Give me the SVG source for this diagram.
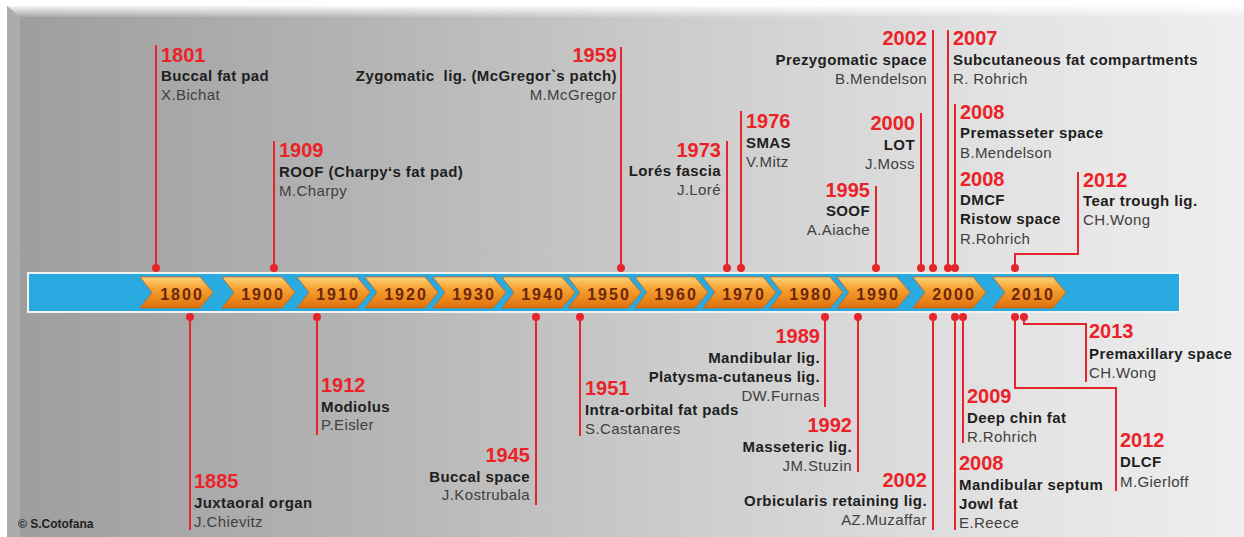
<svg xmlns="http://www.w3.org/2000/svg" width="1244" height="537" viewBox="0 0 1244 537">
<style>
.yr{font-family:"Liberation Sans",Arial,sans-serif;font-weight:bold;font-size:20px;fill:#ec2228}
.tt{font-family:"Liberation Sans",Arial,sans-serif;font-weight:bold;font-size:15px;letter-spacing:0.4px;fill:#1e1e1e}
.nm{font-family:"Liberation Sans",Arial,sans-serif;font-size:15px;letter-spacing:0.4px;fill:#404040}
.e{text-anchor:end}
.pre{white-space:pre}
.cl{font-family:"Liberation Sans",Arial,sans-serif;font-weight:bold;font-size:16px;letter-spacing:2px;fill:#6e260c;text-anchor:middle}
.ln{stroke:#e5242b;stroke-width:2;fill:none}
.dt{fill:#e5242b}
.cp{font-family:"Liberation Sans",Arial,sans-serif;font-weight:bold;font-size:12px;fill:#222}
</style>
<defs>
<linearGradient id="bg" x1="0" y1="0" x2="1" y2="0">
<stop offset="0" stop-color="#9d9d9d"/>
<stop offset="0.3" stop-color="#b5b5b5"/>
<stop offset="0.55" stop-color="#cdcdcd"/>
<stop offset="0.8" stop-color="#e2e2e2"/>
<stop offset="1" stop-color="#eeeeee"/>
</linearGradient>
<linearGradient id="topb" x1="0" y1="0" x2="0" y2="1">
<stop offset="0" stop-color="#ffffff" stop-opacity="0.9"/>
<stop offset="1" stop-color="#ffffff" stop-opacity="0.1"/>
</linearGradient>
<linearGradient id="og" x1="0" y1="0" x2="0" y2="1">
<stop offset="0" stop-color="#fdd27a"/>
<stop offset="0.35" stop-color="#f8a534"/>
<stop offset="1" stop-color="#de700c"/>
</linearGradient>
<path id="chev" d="M0,0 H60 L73,15.5 L60,31 H0 L12,15.5 Z" fill="url(#og)" stroke="#c8650c" stroke-width="0.8"/>
</defs>
<rect x="0" y="0" width="1244" height="537" fill="#ffffff"/>
<rect x="7" y="6" width="1237" height="531" fill="url(#bg)"/>
<polygon points="7,6 1244,6 1244,17 20,17" fill="url(#topb)"/>
<polygon points="7,6 20,17 20,537 7,537" fill="#ffffff" opacity="0.15"/>

<g id="timeline-bar">
<rect x="28" y="273" width="1152" height="39" fill="#29abe2" stroke="#f2f2f2" stroke-width="2"/>
</g>
<g id="decades">
<g id="d1800"><use href="#chev" x="140" y="277"/><text class="cl" x="182" y="300">1800</text></g>
<g id="d1900"><use href="#chev" x="222" y="277"/><text class="cl" x="263" y="300">1900</text></g>
<g id="d1910"><use href="#chev" x="297" y="277"/><text class="cl" x="338" y="300">1910</text></g>
<g id="d1920"><use href="#chev" x="365" y="277"/><text class="cl" x="406" y="300">1920</text></g>
<g id="d1930"><use href="#chev" x="433" y="277"/><text class="cl" x="474" y="300">1930</text></g>
<g id="d1940"><use href="#chev" x="502" y="277"/><text class="cl" x="543" y="300">1940</text></g>
<g id="d1950"><use href="#chev" x="568" y="277"/><text class="cl" x="609" y="300">1950</text></g>
<g id="d1960"><use href="#chev" x="635" y="277"/><text class="cl" x="676" y="300">1960</text></g>
<g id="d1970"><use href="#chev" x="703" y="277"/><text class="cl" x="744" y="300">1970</text></g>
<g id="d1980"><use href="#chev" x="770" y="277"/><text class="cl" x="811" y="300">1980</text></g>
<g id="d1990"><use href="#chev" x="837" y="277"/><text class="cl" x="878" y="300">1990</text></g>
<g id="d2000"><use href="#chev" x="913" y="277"/><text class="cl" x="954" y="300">2000</text></g>
<g id="d2010"><use href="#chev" x="993" y="277"/><text class="cl" x="1033" y="300">2010</text></g>
</g>

<g id="connectors">
<line class="ln" x1="156" y1="45" x2="156" y2="268"/><circle class="dt" cx="156" cy="268" r="4"/>
<line class="ln" x1="274" y1="141" x2="274" y2="268"/><circle class="dt" cx="274" cy="268" r="4"/>
<line class="ln" x1="621" y1="47" x2="621" y2="268"/><circle class="dt" cx="621" cy="268" r="4"/>
<line class="ln" x1="727" y1="141" x2="727" y2="268"/><circle class="dt" cx="727" cy="268" r="4"/>
<line class="ln" x1="741" y1="111" x2="741" y2="268"/><circle class="dt" cx="741" cy="268" r="4"/>
<line class="ln" x1="876" y1="186" x2="876" y2="268"/><circle class="dt" cx="876" cy="268" r="4"/>
<line class="ln" x1="921" y1="113" x2="921" y2="268"/><circle class="dt" cx="921" cy="268" r="4"/>
<line class="ln" x1="933" y1="30" x2="933" y2="268"/><circle class="dt" cx="933" cy="268" r="4"/>
<line class="ln" x1="948" y1="30" x2="948" y2="268"/><circle class="dt" cx="948" cy="268" r="4"/>
<line class="ln" x1="955" y1="104" x2="955" y2="268"/><circle class="dt" cx="955" cy="268" r="4"/>
<polyline class="ln" points="1015,268 1015,254 1078,254 1078,172"/><circle class="dt" cx="1015" cy="268" r="4"/>

<line class="ln" x1="190" y1="317" x2="190" y2="530"/><circle class="dt" cx="190" cy="317" r="4"/>
<line class="ln" x1="317" y1="317" x2="317" y2="435"/><circle class="dt" cx="317" cy="317" r="4"/>
<line class="ln" x1="536" y1="317" x2="536" y2="505"/><circle class="dt" cx="536" cy="317" r="4"/>
<line class="ln" x1="580" y1="317" x2="580" y2="436"/><circle class="dt" cx="580" cy="317" r="4"/>
<line class="ln" x1="825" y1="317" x2="825" y2="407"/><circle class="dt" cx="825" cy="317" r="4"/>
<line class="ln" x1="858" y1="317" x2="858" y2="472"/><circle class="dt" cx="858" cy="317" r="4"/>
<line class="ln" x1="933" y1="317" x2="933" y2="530"/><circle class="dt" cx="933" cy="317" r="4"/>
<line class="ln" x1="955" y1="317" x2="955" y2="530"/><circle class="dt" cx="955" cy="317" r="4"/>
<line class="ln" x1="963" y1="317" x2="963" y2="443"/><circle class="dt" cx="963" cy="317" r="4"/>
<polyline class="ln" points="1015,317 1015,388 1116,388 1116,491"/><circle class="dt" cx="1015" cy="317" r="4"/>
<polyline class="ln" points="1024,317 1024,324 1086,324 1086,382"/><circle class="dt" cx="1024" cy="317" r="4"/>
</g>

<g id="e1801"><text class="yr" x="161" y="62">1801</text><text class="tt" x="161" y="81">Buccal fat pad</text><text class="nm" x="161" y="100">X.Bichat</text></g>
<g id="e1909"><text class="yr" x="279" y="157">1909</text><text class="tt" x="279" y="177">ROOF (Charpy‘s fat pad)</text><text class="nm" x="279" y="196">M.Charpy</text></g>
<g id="e1959"><text class="yr e" x="617" y="62">1959</text><text class="tt e pre" x="617" y="81">Zygomatic  lig. (McGregor`s patch)</text><text class="nm e" x="617" y="100">M.McGregor</text></g>
<g id="e1973"><text class="yr e" x="721" y="157">1973</text><text class="tt e" x="721" y="176">Lorés fascia</text><text class="nm e" x="721" y="195">J.Loré</text></g>
<g id="e1976"><text class="yr" x="746" y="128">1976</text><text class="tt" x="746" y="148">SMAS</text><text class="nm" x="746" y="167">V.Mitz</text></g>
<g id="e1995"><text class="yr e" x="870" y="197">1995</text><text class="tt e" x="870" y="216">SOOF</text><text class="nm e" x="870" y="235">A.Aiache</text></g>
<g id="e2000"><text class="yr e" x="915" y="130">2000</text><text class="tt e" x="915" y="150">LOT</text><text class="nm e" x="915" y="169">J.Moss</text></g>
<g id="e2002a"><text class="yr e" x="927" y="45">2002</text><text class="tt e" x="927" y="65">Prezygomatic space</text><text class="nm e" x="927" y="84">B.Mendelson</text></g>
<g id="e2007"><text class="yr" x="953" y="45">2007</text><text class="tt" x="953" y="65">Subcutaneous fat compartments</text><text class="nm" x="953" y="84">R. Rohrich</text></g>
<g id="e2008a"><text class="yr" x="960" y="119">2008</text><text class="tt" x="960" y="138">Premasseter space</text><text class="nm" x="960" y="158">B.Mendelson</text></g>
<g id="e2008b"><text class="yr" x="960" y="186">2008</text><text class="tt" x="960" y="205">DMCF</text><text class="tt" x="960" y="224">Ristow space</text><text class="nm" x="960" y="244">R.Rohrich</text></g>
<g id="e2012a"><text class="yr" x="1083" y="187">2012</text><text class="tt" x="1083" y="206">Tear trough lig.</text><text class="nm" x="1083" y="225">CH.Wong</text></g>

<g id="e1885"><text class="yr" x="194" y="488">1885</text><text class="tt" x="194" y="508">Juxtaoral organ</text><text class="nm" x="194" y="527">J.Chievitz</text></g>
<g id="e1912"><text class="yr" x="321" y="392">1912</text><text class="tt" x="321" y="412">Modiolus</text><text class="nm" x="321" y="430">P.Eisler</text></g>
<g id="e1945"><text class="yr e" x="530" y="462">1945</text><text class="tt e" x="530" y="482">Buccal space</text><text class="nm e" x="530" y="500">J.Kostrubala</text></g>
<g id="e1951"><text class="yr" x="585" y="395">1951</text><text class="tt" x="585" y="415">Intra-orbital fat pads</text><text class="nm" x="585" y="434">S.Castanares</text></g>
<g id="e1989"><text class="yr e" x="820" y="343">1989</text><text class="tt e" x="820" y="363">Mandibular lig.</text><text class="tt e" x="820" y="382">Platysma-cutaneus lig.</text><text class="nm e" x="820" y="401">DW.Furnas</text></g>
<g id="e1992"><text class="yr e" x="852" y="432">1992</text><text class="tt e" x="852" y="452">Masseteric lig.</text><text class="nm e" x="852" y="471">JM.Stuzin</text></g>
<g id="e2002b"><text class="yr e" x="927" y="487">2002</text><text class="tt e" x="927" y="506">Orbicularis retaining lig.</text><text class="nm e" x="927" y="525">AZ.Muzaffar</text></g>
<g id="e2008c"><text class="yr" x="959" y="470">2008</text><text class="tt" x="959" y="490">Mandibular septum</text><text class="tt" x="959" y="509">Jowl fat</text><text class="nm" x="959" y="528">E.Reece</text></g>
<g id="e2009"><text class="yr" x="967" y="403">2009</text><text class="tt" x="967" y="423">Deep chin fat</text><text class="nm" x="967" y="442">R.Rohrich</text></g>
<g id="e2012b"><text class="yr" x="1120" y="447">2012</text><text class="tt" x="1120" y="467">DLCF</text><text class="nm" x="1120" y="487">M.Gierloff</text></g>
<g id="e2013"><text class="yr" x="1089" y="338">2013</text><text class="tt" x="1089" y="359">Premaxillary space</text><text class="nm" x="1089" y="378">CH.Wong</text></g>

<g id="copyright"><text class="cp" x="18" y="528">© S.Cotofana</text></g>
</svg>
